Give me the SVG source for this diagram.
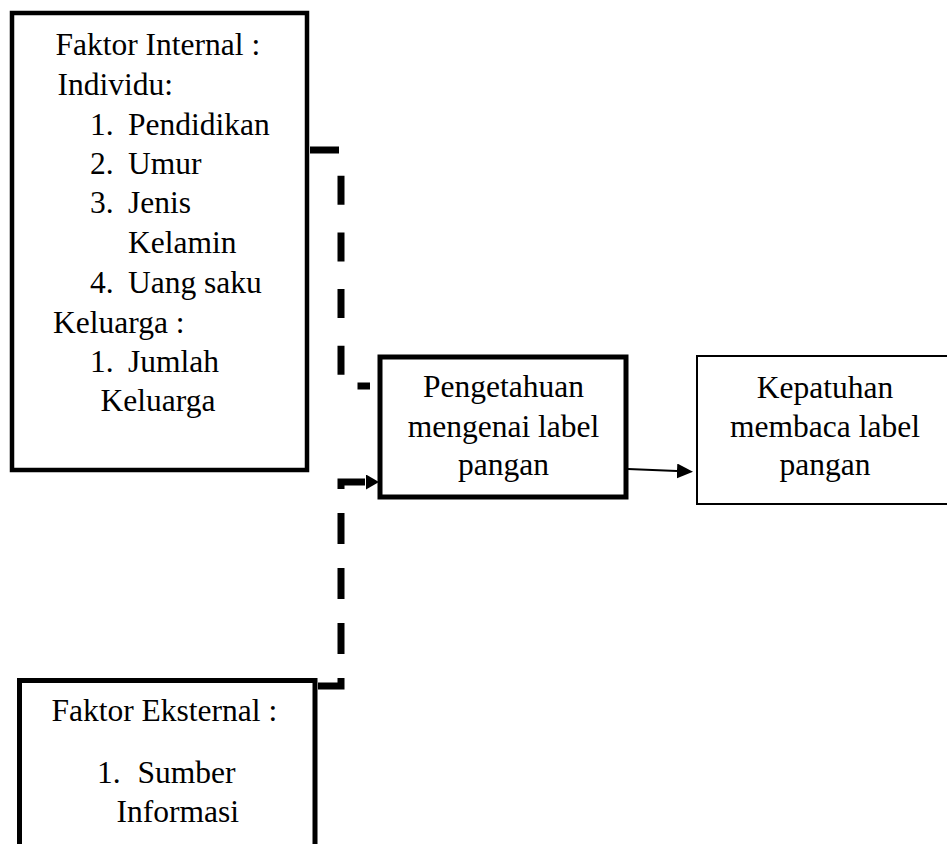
<svg xmlns="http://www.w3.org/2000/svg" width="947" height="844" viewBox="0 0 947 844">
<defs>
<style>
.box{fill:#fff;stroke:#000}
.t{font-family:"Liberation Serif","Times New Roman",serif;font-size:31.5px;fill:#000}
.m{text-anchor:middle}
.dash{fill:none;stroke:#000;stroke-width:7;stroke-linejoin:miter}
.thin{fill:none;stroke:#000;stroke-width:2}
</style>
<marker id="ahThick" markerUnits="userSpaceOnUse" markerWidth="14" markerHeight="15" viewBox="0 0 14 15" refX="0" refY="7.5" orient="auto">
<path d="M0,0 L13,7.5 L0,15 z" fill="#000"/>
</marker>
<marker id="ahThin" markerUnits="userSpaceOnUse" markerWidth="17" markerHeight="15" viewBox="0 0 17 15" refX="0" refY="7.5" orient="auto">
<path d="M0,0 L16,7.5 L0,15 z" fill="#000"/>
</marker>
</defs>
<rect width="947" height="844" fill="#fff"/>

<g id="connectors">
<path class="dash" d="M310,150 H341 V386 H370" stroke-dasharray="29 27.7"/>
<path class="dash" d="M318,686 H341 V482 H366" stroke-dasharray="31 24" marker-end="url(#ahThick)"/>
<path class="thin" d="M628,469 L677,471" marker-end="url(#ahThin)"/>
</g>

<g id="faktor-internal">
<rect class="box" x="12" y="13" width="295" height="457" stroke-width="4.5"/>
<text class="t" x="55.5" y="55">Faktor Internal :</text>
<text class="t" x="57.5" y="95">Individu:</text>
<text class="t" x="90" y="135">1.</text><text class="t" x="128" y="135">Pendidikan</text>
<text class="t" x="90" y="174">2.</text><text class="t" x="128" y="174">Umur</text>
<text class="t" x="90" y="213">3.</text><text class="t" x="128" y="213">Jenis</text>
<text class="t" x="128" y="253">Kelamin</text>
<text class="t" x="90" y="293">4.</text><text class="t" x="128" y="293">Uang saku</text>
<text class="t" x="53" y="333">Keluarga :</text>
<text class="t" x="90" y="372">1.</text><text class="t" x="128" y="372">Jumlah</text>
<text class="t" x="100.5" y="411">Keluarga</text>
</g>

<g id="pengetahuan">
<rect class="box" x="380" y="357" width="246" height="140" stroke-width="5"/>
<text class="t m" x="503.5" y="397">Pengetahuan</text>
<text class="t m" x="503.5" y="437">mengenai label</text>
<text class="t m" x="503.5" y="475">pangan</text>
</g>

<g id="kepatuhan">
<rect class="box" x="697" y="356" width="256" height="148" stroke-width="2"/>
<text class="t m" x="825" y="398">Kepatuhan</text>
<text class="t m" x="825" y="437">membaca label</text>
<text class="t m" x="825" y="475">pangan</text>
</g>

<g id="faktor-eksternal">
<rect class="box" x="19.5" y="680.5" width="295.5" height="200" stroke-width="5"/>
<text class="t" x="51.5" y="721">Faktor Eksternal :</text>
<text class="t" x="97" y="783">1.</text><text class="t" x="137.5" y="783">Sumber</text>
<text class="t" x="116.5" y="822">Informasi</text>
</g>
</svg>
